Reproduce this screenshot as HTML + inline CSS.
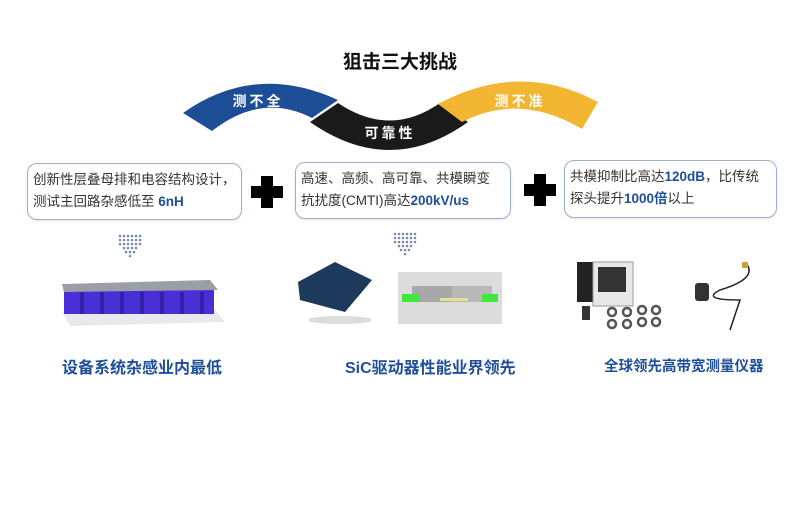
<!DOCTYPE html>
<html><head><meta charset="utf-8"><style>
body{margin:0;width:800px;height:510px;background:#fff;position:relative;overflow:hidden;font-family:"Liberation Sans","Noto Sans CJK SC",sans-serif;}
.a{position:absolute}
.box{position:absolute;border:1.5px solid #9fb0cf;border-radius:10px;background:#fff;font-size:13.5px;line-height:22px;color:#333;padding:5px 5px;box-sizing:border-box;box-shadow:0 1px 2px rgba(0,0,0,.1);white-space:nowrap;overflow:hidden}
.b{color:#1f4e9a;font-weight:bold}
.cap{position:absolute;font-size:16px;font-weight:bold;color:#1f4e9a;white-space:nowrap}
</style></head><body>
<div class="a" style="left:0;top:47px;width:800px;text-align:center;font-size:19px;font-weight:bold;color:#111">狙击三大挑战</div>
<svg class="a" style="left:0;top:0" width="800" height="510">
<defs>
<g id="d" fill="#7a8aa6"><circle cx="0" cy="0" r="1.3"/><circle cx="4" cy="0" r="1.3"/><circle cx="8" cy="0" r="1.3"/><circle cx="12" cy="0" r="1.3"/><circle cx="16" cy="0" r="1.3"/><circle cx="20" cy="0" r="1.3"/>
<circle cx="0" cy="4" r="1.3"/><circle cx="4" cy="4" r="1.3"/><circle cx="8" cy="4" r="1.3"/><circle cx="12" cy="4" r="1.3"/><circle cx="16" cy="4" r="1.3"/><circle cx="20" cy="4" r="1.3"/>
<circle cx="0" cy="8" r="1.3"/><circle cx="4" cy="8" r="1.3"/><circle cx="8" cy="8" r="1.3"/><circle cx="12" cy="8" r="1.3"/><circle cx="16" cy="8" r="1.3"/><circle cx="20" cy="8" r="1.3"/>
<circle cx="4" cy="12" r="1.3"/><circle cx="8" cy="12" r="1.3"/><circle cx="12" cy="12" r="1.3"/><circle cx="16" cy="12" r="1.3"/>
<circle cx="6" cy="16" r="1.3"/><circle cx="10" cy="16" r="1.3"/><circle cx="14" cy="16" r="1.3"/><circle cx="10" cy="20" r="1.3"/></g>
</defs>
<path d="M183,113 Q255,62 338,100 L312,118 Q262,92 212,131 Z" fill="#1d4d94"/>
<path d="M310,122 L338,103 Q390,138 440,103 L468,122 Q390,178 310,122 Z" fill="#1a1a1a"/>
<path d="M438,104 Q520,60 598,102 L582,129 Q520,92 462,122 Z" fill="#f2b633"/>
<text x="258" y="106" fill="#fff" font-size="14" font-weight="bold" text-anchor="middle" letter-spacing="3" font-family="Noto Sans CJK SC">测不全</text>
<text x="390" y="138" fill="#fff" font-size="14" font-weight="bold" text-anchor="middle" letter-spacing="3" font-family="Noto Sans CJK SC">可靠性</text>
<text x="520" y="106" fill="#fff" font-size="14" font-weight="bold" text-anchor="middle" letter-spacing="3" font-family="Noto Sans CJK SC">测不准</text>
<g fill="#000"><rect x="261" y="176" width="12" height="32"/><rect x="251" y="186" width="32" height="12"/>
<rect x="534" y="174" width="12" height="32"/><rect x="524" y="184" width="32" height="12"/></g>
<use href="#d" x="120" y="236"/><use href="#d" x="395" y="234"/>
<polygon points="62,312 215,310 225,322 70,326" fill="#e6e9ee"/>
<rect x="64" y="290" width="150" height="24" fill="#4a2fd6"/>
<g fill="#3220a8"><rect x="80" y="292" width="4" height="22"/><rect x="100" y="292" width="4" height="22"/><rect x="120" y="292" width="4" height="22"/><rect x="140" y="292" width="4" height="22"/><rect x="160" y="292" width="4" height="22"/><rect x="180" y="292" width="4" height="22"/><rect x="200" y="292" width="4" height="22"/></g>
<polygon points="62,284 210,280 218,290 64,292" fill="#9a9ea6"/>
<polygon points="298,282 335,262 372,280 345,312 300,300" fill="#1d3a5a"/>
<ellipse cx="340" cy="320" rx="32" ry="4" fill="#ddd"/>
<rect x="398" y="272" width="104" height="52" fill="#dcdcdc"/>
<rect x="412" y="286" width="40" height="16" fill="#a8a8a8"/><rect x="452" y="286" width="40" height="16" fill="#b8b8b8"/>
<rect x="402" y="294" width="18" height="8" fill="#3ee83e"/><rect x="482" y="294" width="16" height="8" fill="#3ee83e"/>
<rect x="440" y="298" width="28" height="3" fill="#e8e090"/>
<rect x="577" y="262" width="38" height="40" fill="#222"/>
<rect x="593" y="262" width="40" height="44" fill="#e8e8e8" stroke="#999"/>
<rect x="598" y="267" width="28" height="25" fill="#333"/>
<g fill="none" stroke="#555" stroke-width="2.5"><circle cx="612" cy="312" r="4"/><circle cx="627" cy="312" r="4"/><circle cx="642" cy="310" r="4"/><circle cx="656" cy="310" r="4"/><circle cx="612" cy="324" r="4"/><circle cx="627" cy="324" r="4"/><circle cx="642" cy="322" r="4"/><circle cx="656" cy="322" r="4"/></g>
<rect x="582" y="306" width="8" height="14" fill="#333"/>
<path d="M745,262 Q760,278 720,290 Q700,300 740,300 L730,330" fill="none" stroke="#222" stroke-width="1.5"/>
<rect x="695" y="283" width="14" height="18" rx="3" fill="#333"/>
<rect x="742" y="262" width="6" height="6" fill="#c9a040"/>
</svg>
<div class="box" style="left:27px;top:163px;width:215px;height:57px">创新性层叠母排和电容结构设计，<br>测试主回路杂感低至 <span class="b">6nH</span></div>
<div class="box" style="left:295px;top:162px;width:216px;height:57px">高速、高频、高可靠、共模瞬变<br>抗扰度(CMTI)高达<span class="b">200kV/us</span></div>
<div class="box" style="left:564px;top:160px;width:213px;height:58px">共模抑制比高达<span class="b">120dB</span>，比传统<br>探头提升<span class="b">1000倍</span>以上</div>
<div class="cap" style="left:62px;top:354px">设备系统杂感业内最低</div>
<div class="cap" style="left:345px;top:354px">SiC驱动器性能业界领先</div>
<div class="cap" style="left:604px;top:355px;font-size:14.5px">全球领先高带宽测量仪器</div>
</body></html>
